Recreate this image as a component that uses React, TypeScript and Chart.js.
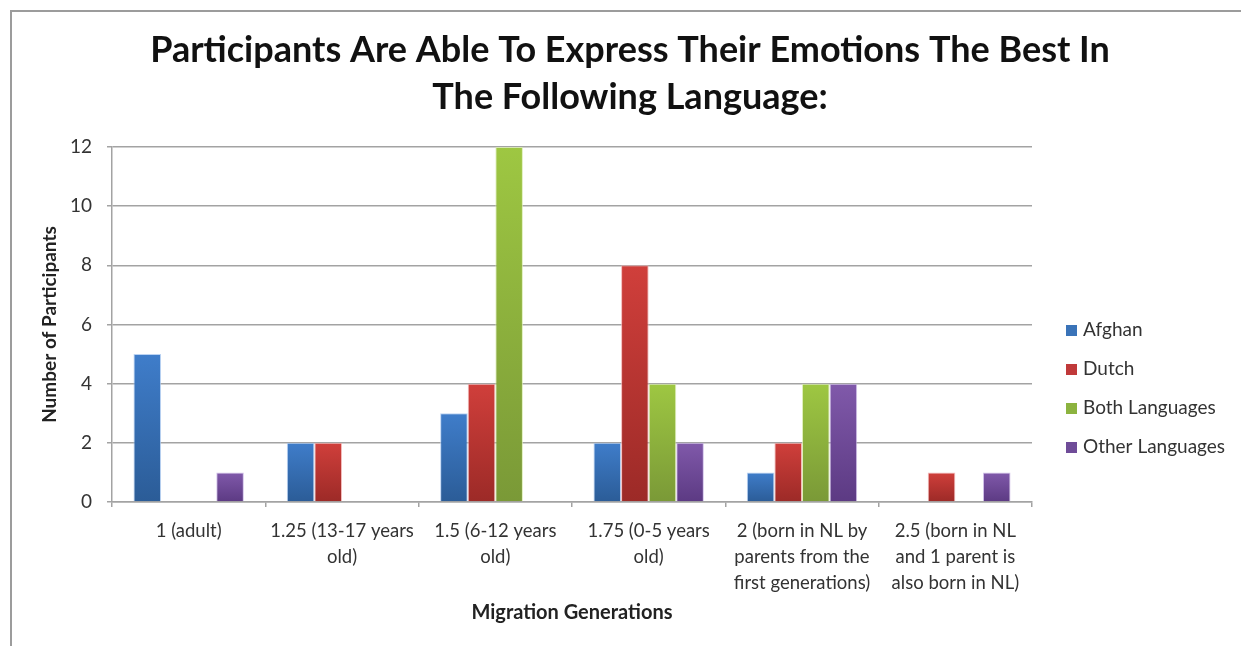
import React, { useEffect, useRef } from "react";
import { Chart, registerables } from "chart.js";

Chart.register(...registerables);

const categories: string[][] = [
  ["1 (adult)"],
  ["1.25 (13-17 years", "old)"],
  ["1.5 (6-12 years", "old)"],
  ["1.75 (0-5 years", "old)"],
  ["2 (born in NL by", "parents from the", "first generations)"],
  ["2.5 (born in NL", "and 1 parent is", "also born in NL)"],
];

const afghan = [5, 2, 3, 2, 1, 0];
const dutch = [0, 2, 4, 8, 2, 1];
const bothLanguages = [0, 0, 12, 4, 4, 0];
const otherLanguages = [1, 0, 0, 2, 4, 1];

const seriesNames = ["Afghan", "Dutch", "Both Languages", "Other Languages"];
// [top colour, bottom colour, legend colour, edge colour]
const seriesColors: [string, string, string, string][] = [
  ["#3f7dca", "#2b5c97", "#3a73b8", "rgba(170,200,240,0.8)"],
  ["#d03f3b", "#9c2a27", "#c0393a", "rgba(240,170,170,0.8)"],
  ["#9ec742", "#7a9937", "#8cb33f", "rgba(215,235,170,0.8)"],
  ["#8059aa", "#5c3a83", "#6f4c98", "rgba(200,180,230,0.8)"],
];

const titleLines = [
  "Participants Are Able To Express Their Emotions The Best In",
  "The Following Language:",
];

const yTitle = "Number of Participants";
const xTitle = "Migration Generations";

const FONT = "Lato, 'Open Sans', sans-serif";
const TEXT = "#333333";
const GRID = "#a3a3a3";

function barFill(idx: number) {
  return (ctx: any) => {
    const [top, bottom] = seriesColors[idx];
    const chart = ctx.chart;
    const y = chart.scales && chart.scales.y;
    if (ctx.type !== "data" || !y || !chart.chartArea) return top;
    const v = ctx.raw as number;
    const yTop = y.getPixelForValue(v);
    const yBase = y.getPixelForValue(0);
    if (!isFinite(yTop) || !isFinite(yBase) || Math.abs(yBase - yTop) < 1) return top;
    const g = chart.ctx.createLinearGradient(0, yTop, 0, yBase);
    g.addColorStop(0, top);
    g.addColorStop(1, bottom);
    return g;
  };
}

const decorPlugin = {
  id: "decor",
  beforeDraw(chart: any) {
    const c = chart.ctx as CanvasRenderingContext2D;
    c.save();
    c.fillStyle = "#ffffff";
    c.fillRect(0, 0, chart.width, chart.height);
    // outer frame (left and top edges)
    c.strokeStyle = "#9c9c9c";
    c.lineWidth = 2;
    c.beginPath();
    c.moveTo(11, chart.height);
    c.lineTo(11, 11);
    c.lineTo(chart.width, 11);
    c.stroke();
    c.restore();
  },
  afterDraw(chart: any) {
    const c = chart.ctx as CanvasRenderingContext2D;
    c.save();
    // title
    c.fillStyle = "#111111";
    c.font = `bold 36px ${FONT}`;
    c.textAlign = "center";
    c.textBaseline = "middle";
    titleLines.forEach((line, i) => c.fillText(line, 630, 50 + i * 47));
    // legend
    c.font = `19px ${FONT}`;
    c.textAlign = "left";
    seriesNames.forEach((name, i) => {
      const cy = 330 + i * 39;
      c.fillStyle = seriesColors[i][2];
      c.fillRect(1066, cy - 5, 11, 11);
      c.fillStyle = "#333333";
      c.fillText(name, 1083, cy);
    });
    c.restore();
  },
};

export default function App() {
  const canvasRef = useRef<HTMLCanvasElement | null>(null);

  useEffect(() => {
    document.body.style.margin = "0";
    const canvas = canvasRef.current;
    if (!canvas) return;
    const values = [afghan, dutch, bothLanguages, otherLanguages];
    const chart = new Chart(canvas, {
      type: "bar",
      data: {
        labels: categories,
        datasets: values.map((data, i) => ({
          label: seriesNames[i],
          data,
          backgroundColor: barFill(i),
          borderColor: seriesColors[i][3],
          borderWidth: (ctx: any) => (ctx.raw ? 1 : 0),
          categoryPercentage: 0.72,
          barPercentage: 1,
        })),
      },
      options: {
        responsive: false,
        animation: false,
        devicePixelRatio: 1,
        layout: { padding: { top: 147, right: 209, left: 0, bottom: 0 } },
        plugins: {
          legend: { display: false },
          title: { display: false },
          tooltip: { enabled: false },
        },
        scales: {
          x: {
            afterFit: (scale: any) => {
              scale.height = 144;
            },
            grid: {
              offset: true,
              drawOnChartArea: false,
              drawTicks: true,
              tickLength: 5,
              color: GRID,
              lineWidth: 1.5,
            },
            border: { color: GRID, width: 1.5 },
            ticks: {
              autoSkip: false,
              maxRotation: 0,
              minRotation: 0,
              padding: 11,
              color: TEXT,
              font: { family: FONT, size: 18.5, lineHeight: 1.4 },
            },
            title: {
              display: true,
              text: xTitle,
              color: "#222222",
              font: { family: FONT, size: 20, weight: "bold", lineHeight: 1.2 },
              padding: { top: 0, bottom: 21 },
            },
          },
          y: {
            min: 0,
            max: 12,
            afterFit: (scale: any) => {
              scale.width = 112;
            },
            grid: {
              color: GRID,
              lineWidth: 1.5,
              drawTicks: true,
              tickLength: 5,
            },
            border: { color: GRID, width: 1.5 },
            ticks: {
              stepSize: 2,
              padding: 15,
              color: TEXT,
              font: { family: FONT, size: 19 },
            },
            title: {
              display: true,
              text: yTitle,
              color: "#222222",
              font: { family: FONT, size: 19, weight: "bold", lineHeight: 1.2 },
              padding: { top: 38.5, bottom: 0 },
            },
          },
        },
      },
      plugins: [decorPlugin],
    });
    return () => chart.destroy();
  }, []);

  return (
    <div style={{ position: "fixed", left: 0, top: 0, width: 1241, height: 646 }}>
      <canvas ref={canvasRef} width={1241} height={646} style={{ display: "block" }} />
    </div>
  );
}
